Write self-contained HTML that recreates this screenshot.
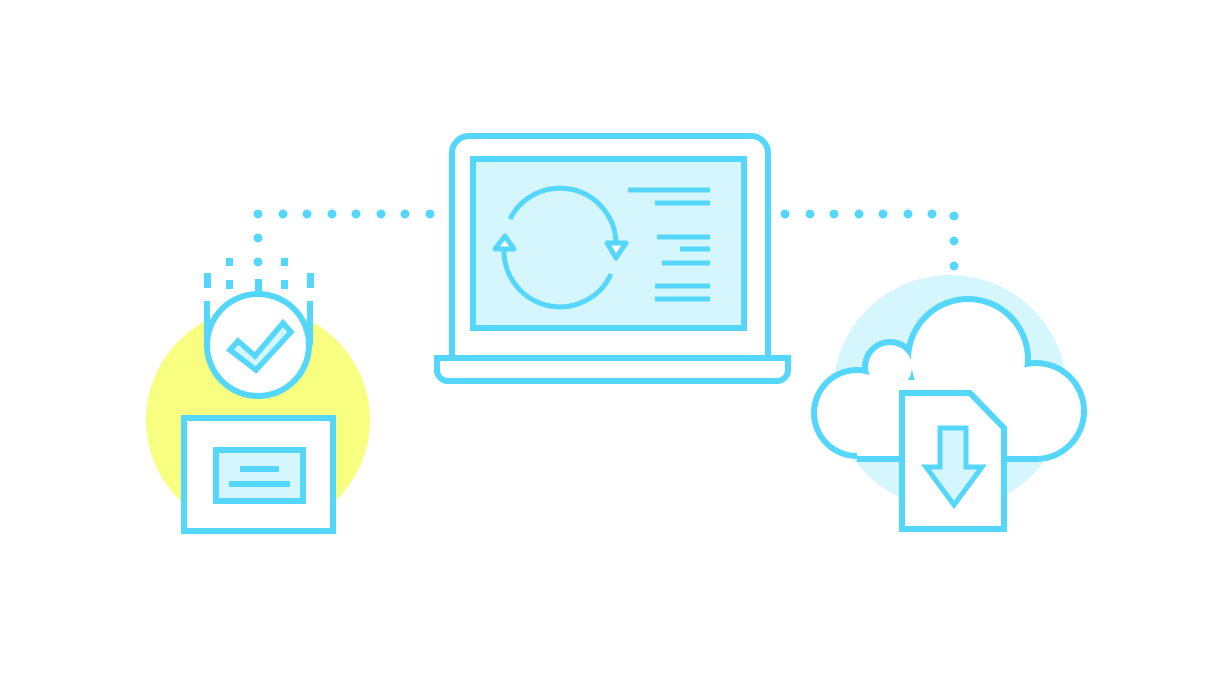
<!DOCTYPE html>
<html><head><style>html,body{margin:0;padding:0;background:#fff;width:1230px;height:685px;overflow:hidden}</style></head>
<body>
<svg width="1230" height="685" viewBox="0 0 1230 685" xmlns="http://www.w3.org/2000/svg">
<g fill="#55d6fb">
<circle cx="258" cy="214" r="4.5"/><circle cx="283" cy="214" r="4.5"/><circle cx="307" cy="214" r="4.5"/><circle cx="332" cy="214" r="4.5"/><circle cx="356" cy="214" r="4.5"/><circle cx="381" cy="214" r="4.5"/><circle cx="405" cy="214" r="4.5"/><circle cx="430" cy="214" r="4.5"/>
<circle cx="258" cy="238" r="4.5"/><circle cx="258" cy="262" r="4.5"/>
<circle cx="785" cy="214" r="4.5"/><circle cx="810" cy="214" r="4.5"/><circle cx="834" cy="214" r="4.5"/><circle cx="859" cy="214" r="4.5"/><circle cx="883" cy="214" r="4.5"/><circle cx="908" cy="214" r="4.5"/><circle cx="932" cy="214" r="4.5"/>
<circle cx="954" cy="216" r="4.5"/><circle cx="954" cy="241" r="4.5"/><circle cx="954" cy="266" r="4.5"/>
<rect x="226" y="258" width="7" height="8"/><rect x="281" y="258" width="7" height="8"/>
<rect x="204" y="273" width="7" height="15"/><rect x="226" y="280" width="7" height="9"/><rect x="255" y="279" width="7" height="13"/><rect x="281" y="280" width="7" height="9"/><rect x="307" y="273" width="7" height="15"/>
</g>
<circle cx="258" cy="420" r="112" fill="#f7fe80"/>
<circle cx="950" cy="392" r="117" fill="#d6f6fe"/>
<g stroke="#55d6fb" stroke-width="6" fill="none">
<circle cx="258" cy="345" r="51" fill="#fff"/>
<path d="M207 301 V345 M310 301 V345"/>
<path d="M230 350 L238 341 L255 356 L283 323 L291 332 L256 370 Z" fill="#d6f6fe" stroke-width="5.5" stroke-linejoin="miter"/>
<rect x="184" y="418" width="149" height="113" fill="#fff"/>
<rect x="216" y="450" width="87" height="51" fill="#d6f6fe"/>
<path d="M240 469 H279 M229 484 H290"/>
<path d="M452 357 V153 A17 17 0 0 1 469 136 H751 A17 17 0 0 1 768 153 V357" fill="#fff"/>
<rect x="473" y="159" width="271" height="169" fill="#d6f6fe"/>
<path d="M437 358 H788 V370 A11 11 0 0 1 777 381 H448 A11 11 0 0 1 437 370 Z" fill="#fff"/>
<path d="M628 190 H710 M655 203 H710 M657 237 H710 M680 249 H710 M662 263 H710 M655 286 H710 M655 299 H710" stroke-width="5"/>
<path d="M510 219 A56 56 0 0 1 616 243" stroke-width="5"/>
<path d="M611 274 A56 56 0 0 1 504 251" stroke-width="5"/>
<path d="M495 249 L505 236 L514 249 Z M607 243 L626 243 L616 258 Z" stroke-width="5" stroke-linejoin="round" fill="#fff"/>
</g>
<g fill="#55d6fb">
<circle cx="857" cy="413" r="46"/><circle cx="890" cy="367" r="28"/><circle cx="968" cy="359" r="63"/><circle cx="1036" cy="411" r="51"/>
<rect x="857" y="410" width="180" height="52"/>
</g>
<g fill="#fff">
<circle cx="857" cy="413" r="40"/><circle cx="890" cy="367" r="22"/><circle cx="968" cy="359" r="57"/><circle cx="1036" cy="411" r="45"/>
<rect x="857" y="380" width="180" height="76"/>
</g>
<g stroke="#55d6fb" stroke-width="6" fill="#fff">
<path d="M902 393 H970 L1004 428 V529 H902 Z"/>
<path d="M940 428 H966 V467 H982 L954 505 L926 467 H940 Z" fill="#d6f6fe" stroke-width="5"/>
</g>
</svg>
</body></html>
